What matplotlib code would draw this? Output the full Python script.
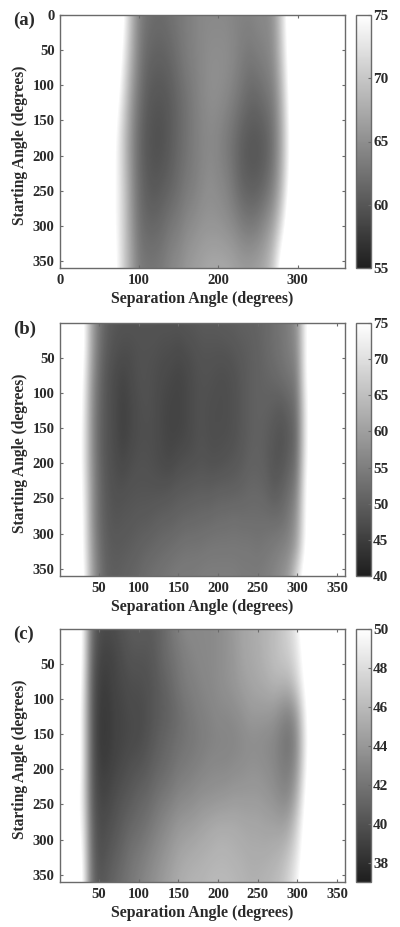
import numpy as np
import matplotlib
matplotlib.use('Agg')
import matplotlib.pyplot as plt
from matplotlib.colors import LinearSegmentedColormap

plt.rcParams['font.family'] = ['Liberation Serif', 'DejaVu Serif']
plt.rcParams['font.weight'] = 'bold'

# separation angle columns (deg) and starting angle rows (deg)
sep_a = list(range(60, 310, 10))
start_a = [0, 60, 120, 180, 240, 300, 360]
vals_a = [
    [80, 80, 76, 69, 64, 62.5, 62, 62, 62.5, 63, 63.5, 64, 64.5, 64.5, 64.5, 64.5, 64, 64, 64, 64.5, 64.5, 65.5, 71, 78, 80],
    [80, 79, 74, 68, 63.5, 61.5, 61, 61, 61.5, 62.5, 63.5, 64, 64.5, 65, 65, 65, 64.5, 63.5, 63, 63.5, 64, 65, 70, 77, 80],
    [80, 77, 72, 66, 62.5, 60.5, 60, 60, 60.5, 61.5, 62.5, 63.5, 64.5, 65, 65, 64.5, 63.5, 62.5, 61.5, 61.5, 62.5, 63.5, 68, 76, 80],
    [79, 75, 70, 65, 61.5, 60, 59.5, 59.5, 60.5, 61.5, 62.5, 63.5, 64, 64.5, 64, 63, 62, 60.5, 60, 60, 60.5, 62.5, 67, 75, 80],
    [78, 75, 71, 65.5, 62, 60.5, 60, 60.5, 61, 62, 63, 63.5, 64.5, 65, 64.5, 64, 62.5, 61, 60.5, 60.5, 61.5, 63.5, 68, 76, 80],
    [78, 75, 71, 66, 62.5, 61.5, 61.5, 62, 63, 63.5, 64.5, 65, 65.5, 65.5, 65.5, 65, 64.5, 63.5, 63, 63.5, 65, 67, 72, 79, 80],
    [79, 76, 71, 67, 63.5, 63, 63, 63.5, 64.5, 65, 66, 66.5, 67, 67.5, 67.5, 67.5, 67, 66.5, 66.5, 67, 68, 71, 78, 80, 80],
]

sep_bc = list(range(20, 330, 10))
start_bc = [0, 40, 80, 120, 160, 200, 240, 280, 320, 360]
vals_b = [
    [80, 78, 62, 54, 50, 49, 48.5, 48.5, 48.5, 48.5, 48.5, 48.5, 48.5, 48.5, 49, 49, 49.5, 49.5, 49.5, 50, 50, 50.5, 50.5, 51, 51.5, 52.5, 53.5, 55, 58, 74, 80],
    [80, 78, 62, 53, 49.5, 48, 47.5, 47.5, 48, 48, 48, 47.5, 47.5, 47, 47.5, 48, 48.5, 48.5, 48.5, 48.5, 49, 49.5, 50, 50.5, 51.5, 52.5, 53.5, 55, 57, 74, 80],
    [80, 76, 60, 52, 48.5, 47, 46, 47, 48, 48, 47.5, 47, 46.5, 46, 46.5, 47.5, 48, 48, 47.5, 47.5, 48, 49, 50, 50.5, 51, 51.5, 52.5, 53.5, 55, 74, 80],
    [80, 75, 59, 51.5, 48.5, 47, 45.5, 46.5, 47.5, 48, 47.5, 46.5, 46, 46, 46.5, 47.5, 48, 47.5, 47.5, 47.5, 48, 49, 50, 50.5, 50.5, 50, 49.5, 51, 53, 72, 80],
    [80, 74, 59, 51, 48.5, 47, 45.5, 46.5, 47.5, 47.5, 47.5, 46.5, 46, 46, 46.5, 47.5, 48, 47.5, 47.5, 47.5, 48, 49, 50, 50.5, 50, 49, 48, 49.5, 52, 72, 80],
    [80, 74, 59, 51.5, 48.5, 47.5, 46.5, 47.5, 48, 48, 47.5, 47, 46.5, 47.5, 48, 48, 48.5, 48, 48, 48.5, 49, 49.5, 50.5, 50.5, 50, 48.5, 48.5, 50.5, 53, 73, 80],
    [80, 75, 60, 52, 49, 48, 48, 48.5, 48.5, 48.5, 48.5, 48.5, 49, 49.5, 49.5, 50, 50, 50, 50.5, 50.5, 50.5, 51, 51.5, 51.5, 51, 49.5, 50.5, 52.5, 56, 75, 80],
    [80, 76, 60, 52, 49.5, 48.5, 49, 49, 49.5, 49.5, 50, 50.5, 50.5, 51, 51.5, 51.5, 52, 52, 52.5, 52.5, 53, 52.5, 52.5, 52.5, 52.5, 52.5, 52.5, 54.5, 59, 75, 80],
    [80, 76, 61, 53, 50, 49.5, 49.5, 50, 50.5, 51, 51.5, 52, 52.5, 53, 53.5, 53.5, 53.5, 54, 54, 54, 54, 54, 54, 53.5, 54, 54.5, 55.5, 56.5, 61, 76, 80],
    [80, 78, 62, 54, 50.5, 50, 50.5, 51, 51.5, 52.5, 53, 53.5, 54, 54.5, 54.5, 54.5, 55, 55, 55, 55, 55, 54.5, 54.5, 54.5, 55, 56, 57.5, 60, 70, 80, 80],
]
vals_c = [
    [52, 50, 42, 39.8, 39.6, 39.8, 40.2, 40.5, 40.7, 40.5, 40.7, 41.2, 42, 42.7, 43.2, 43.2, 43.2, 43.2, 43.4, 43.7, 44.2, 44.7, 45, 45.2, 45.7, 46, 46.7, 47.5, 49, 52, 52],
    [52, 50, 41.5, 39.3, 39.1, 39.3, 39.8, 40.2, 40.2, 40.2, 40.5, 41.2, 41.7, 42.2, 42.7, 43, 43.2, 43.2, 43.4, 43.7, 44, 44.7, 45, 45.2, 45.7, 46.2, 46.7, 47.2, 48.5, 51, 52],
    [52, 49.5, 41, 38.9, 38.8, 39.3, 39.5, 39.8, 39.8, 40, 40.3, 40.8, 41.3, 42, 42.5, 42.7, 43, 43.2, 43.4, 43.7, 44, 44.4, 44.7, 45, 45.2, 45.7, 45.7, 45.7, 47.5, 50.5, 52],
    [52, 49, 41, 38.7, 38.6, 39.1, 39.3, 39.6, 39.6, 39.8, 40.3, 40.6, 41, 41.5, 42, 42.4, 42.7, 42.9, 43.2, 43.2, 43.4, 43.7, 44.2, 44.2, 44.2, 44, 43.3, 42.8, 44.5, 49.5, 52],
    [52, 49, 41, 38.6, 38.6, 39.1, 39.3, 39.5, 39.6, 40, 40.5, 41, 41.3, 41.7, 42, 42.2, 42.5, 42.7, 42.9, 42.9, 43, 43.2, 43.4, 43.4, 43.2, 43, 42.3, 41.8, 43.3, 49, 52],
    [52, 49, 41, 38.9, 38.9, 39.3, 39.6, 40, 40.2, 40.5, 41, 41.3, 41.7, 42.2, 42.4, 42.7, 42.9, 43.2, 43.2, 43.2, 43.4, 43.5, 43.7, 43.7, 43.5, 43.2, 42.6, 42.4, 44, 49.5, 52],
    [51, 49, 41, 39.3, 39.3, 39.8, 40.2, 40.5, 41, 41.2, 41.7, 42.2, 42.5, 43, 43.2, 43.4, 43.7, 43.7, 43.9, 44, 44.2, 44.2, 44.2, 44.2, 44, 43.7, 43.2, 43.2, 45.5, 50.5, 52],
    [51, 49.5, 41.5, 39.6, 39.8, 40.2, 40.7, 41.2, 41.5, 41.9, 42.5, 43, 43.5, 44, 44.2, 44.4, 44.7, 45, 45.2, 45.2, 45.2, 45, 44.9, 44.9, 44.7, 44.7, 44.5, 45, 47.5, 51, 52],
    [52, 50, 41.8, 39.8, 40.2, 40.7, 41.2, 41.9, 42.2, 42.7, 43.2, 43.7, 44.2, 44.7, 45, 45.2, 45.4, 45.5, 45.7, 45.7, 45.5, 45.4, 45.2, 45.2, 45.2, 45.4, 45.7, 46.7, 48.5, 51.5, 52],
    [52, 50.5, 42, 40.2, 40.7, 41.2, 41.7, 42.2, 42.7, 43.2, 43.7, 44.2, 44.7, 45.2, 45.5, 45.7, 45.7, 46, 46, 46, 45.9, 45.7, 45.5, 45.5, 45.7, 46, 46.5, 47.7, 49.5, 52, 52],
]

xticks_a = [0, 100, 200, 300]
xticks_bc = [50, 100, 150, 200, 250, 300, 350]
yticks_a = [0, 50, 100, 150, 200, 250, 300, 350]
yticks_bc = [50, 100, 150, 200, 250, 300, 350]
cticks_a = [55, 60, 65, 70, 75]
cticks_b = [40, 45, 50, 55, 60, 65, 70, 75]
cticks_c = [38, 40, 42, 44, 46, 48, 50]

W, H = 400, 927
EDGE = '#6a6a6a'
TXT = '#2a2a2a'
cmap = LinearSegmentedColormap.from_list('g', ['#1e1e1e', '#ffffff'])

fig = plt.figure(figsize=(W / 100, H / 100), dpi=100)


def box(x0, x1, y0, y1):
    return [x0 / W, 1 - y1 / H, (x1 - x0) / W, (y1 - y0) / H]


def style(ax):
    for s in ax.spines.values():
        s.set_color(EDGE)
        s.set_linewidth(1.0)


def panel(top, bottom, letter, letter_y, sep, start, vals, vmin, vmax, cticks, xticks, yticks, xlo, ylo):
    ax = fig.add_axes(box(60, 345, top, bottom))
    # pad the table out to the full 0-360 range, outside it is saturated white
    step = start[1] - start[0]
    cols = np.arange(0, 370, 10)
    grid = np.full((len(start), len(cols)), float(vmax) + 5)
    grid[:, np.searchsorted(cols, sep)] = np.array(vals)
    im = ax.imshow(grid, cmap=cmap, vmin=vmin, vmax=vmax, aspect='auto', interpolation='bicubic',
                   extent=[-5, 365, 360 + step / 2, -step / 2])
    ax.set_xlim(xlo, 360)
    ax.set_ylim(360, ylo)
    ax.set_xticks(xticks)
    ax.set_yticks(yticks)
    ax.tick_params(direction='in', length=2.5, width=0.8, color=EDGE, top=True, right=True,
                   labelsize=10.5, labelcolor=TXT, pad=4)
    style(ax)
    ax.set_xlabel('Separation Angle (degrees)', fontsize=11.4, fontweight='bold', color=TXT, labelpad=3)
    ax.set_ylabel('Starting Angle (degrees)', fontsize=11.2, fontweight='bold', color=TXT, labelpad=3.5, y=0.486)
    fig.text(13 / W, 1 - letter_y / H, letter, fontsize=13.5, fontweight='bold', color=TXT, va='center')

    cax = fig.add_axes(box(356, 371, top, bottom))
    cb = fig.colorbar(im, cax=cax)
    cb.set_ticks(cticks)
    cax.tick_params(direction='in', length=2.5, width=0.8, color=EDGE, labelsize=11, labelcolor=TXT, pad=1.5)
    cb.outline.set_edgecolor(EDGE)
    cb.outline.set_linewidth(1.0)


panel(15, 268, '(a)', 20, sep_a, start_a, vals_a, 55, 75, cticks_a, xticks_a, yticks_a, 0, 0)
panel(323, 576, '(b)', 329, sep_bc, start_bc, vals_b, 40, 75, cticks_b, xticks_bc, yticks_bc, 1, 1)
panel(629, 882, '(c)', 634, sep_bc, start_bc, vals_c, 37, 50, cticks_c, xticks_bc, yticks_bc, 1, 1)

fig.savefig('out.png', dpi=100)
